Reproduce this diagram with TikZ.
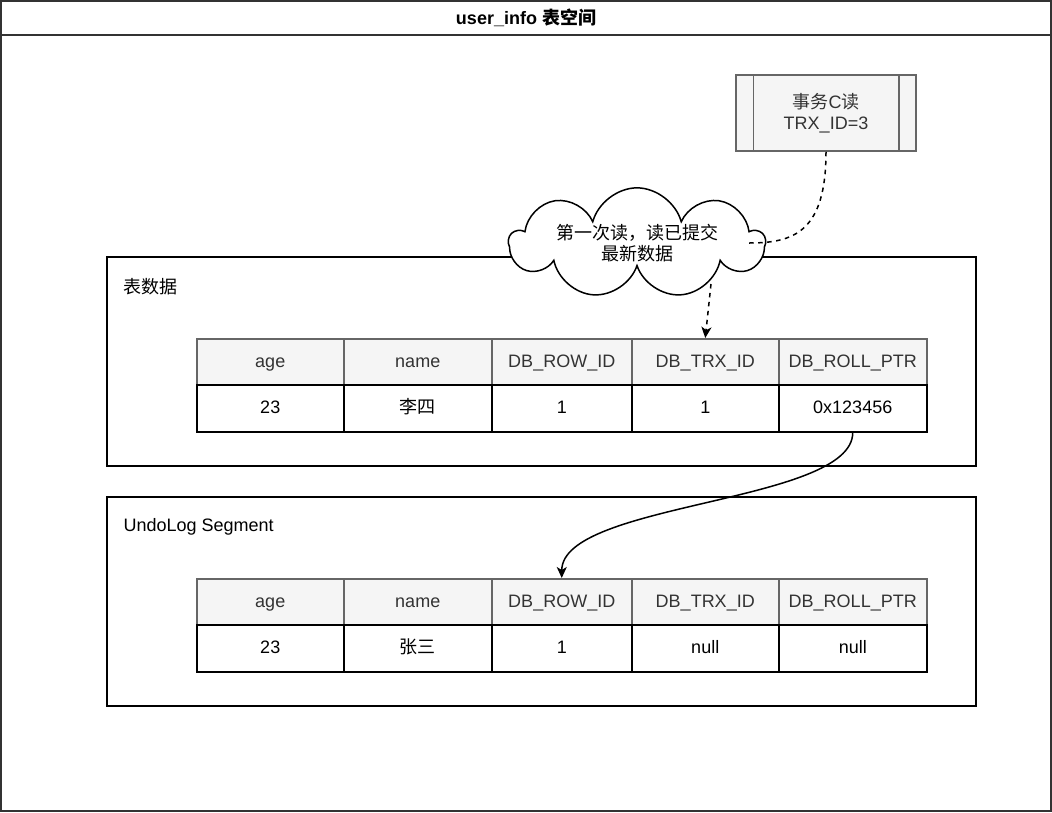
\documentclass[tikz,border=0pt]{standalone}
\usepackage{fontspec}
\setmainfont{Liberation Sans}
\newfontfamily\cjk{Noto Sans CJK SC}
\usetikzlibrary{shapes.symbols,arrows.meta,positioning}

\definecolor{cellgray}{HTML}{F5F5F5}
\definecolor{linegray}{HTML}{666666}
\definecolor{textgray}{HTML}{333333}

\tikzset{
  every node/.style={font=\fontsize{18}{21}\selectfont},
  frame/.style={draw=textgray, line width=1.5pt},
  container/.style={draw=black, line width=1.5pt, inner sep=0pt},
  hdcell/.style={draw=linegray, fill=cellgray, text=textgray, line width=1.5pt,
    minimum height=46, inner sep=0pt, text height=14, text depth=3},
  valcell/.style={draw=black, fill=white, line width=1.5pt,
    minimum height=47, inner sep=0pt, text height=14, text depth=3},
  trxbox/.style={draw=linegray, fill=cellgray, text=textgray, line width=1.5pt,
    minimum width=180, minimum height=76, align=center},
  bubble/.style={cloud, cloud puffs=9, cloud ignores aspect, draw=black, fill=white,
    line width=1.5pt, inner sep=0pt, minimum width=255, minimum height=107, align=center},
  link/.style={line width=1.5pt, -{Stealth[length=11pt,width=10pt,inset=3pt]}},
  dashlink/.style={line width=1.5pt, dash pattern=on 4.5pt off 4.5pt}
}

\begin{document}
\begin{tikzpicture}[x=1pt, y=-1pt]
  \useasboundingbox (0,0) rectangle (1052,812);

  % outer table space
  \draw[frame] (1,1) rectangle (1051,811);
  \draw[frame] (1,35) -- (1051,35);
  \node (title) at (526,18) {\bfseries user\_info {\cjk 表空间}};

  % containers
  \node[container, minimum width=869, minimum height=209, anchor=north west] (datbox) at (106,256) {};
  \node[anchor=west] (datlbl) at (120,287) {\cjk 表数据};
  \node[container, minimum width=869, minimum height=209, anchor=north west] (undobox) at (106,496) {};
  \node[anchor=west] (undolbl) at (120,527) {UndoLog Segment};

  % rows
  \foreach \n/\xl/\w/\hd/\va/\vb in {
      1/196/147/age/23/23,
      2/343/148/name/{\cjk 李四}/{\cjk 张三},
      3/491/140/DB\_ROW\_ID/1/1,
      4/631/147/DB\_TRX\_ID/1/null,
      5/778/148/DB\_ROLL\_PTR/0x123456/null}{
    \node[hdcell, minimum width=\w, anchor=north west] (dh\n) at (\xl,338) {\hd};
    \node[valcell, minimum width=\w, anchor=north west] (dv\n) at (\xl,384) {\va};
    \node[hdcell, minimum width=\w, anchor=north west] (uh\n) at (\xl,578) {\hd};
    \node[valcell, minimum width=\w, anchor=north west] (uv\n) at (\xl,624) {\vb};
  }

  % transaction C
  \node[trxbox] (trx) at (826,113) {{\cjk 事务}C{\cjk 读}\\TRX\_ID=3};
  \draw[draw=linegray, line width=1.5pt] ([xshift=18]trx.north west) -- ([xshift=18]trx.south west);
  \draw[draw=linegray, line width=1.5pt] ([xshift=-18]trx.north east) -- ([xshift=-18]trx.south east);

  % read note
  \node[bubble] (note) at (637,243) {\cjk 第一次读，读已提交\\\cjk 最新数据};
  \coordinate (noteR) at (749,243);
  \coordinate (noteB) at (711,284);

  \draw[dashlink] (trx.south) .. controls +(0,80) and +(45,0) .. (noteR);
  \draw[dashlink, -{Stealth[length=11pt,width=10pt,inset=3pt]}] (noteB) -- (dh4.north);

  % roll pointer
  \draw[link] (dv5.south) .. controls +(0,71) and +(0,-76) .. (uh3.north);
\end{tikzpicture}
\end{document}
